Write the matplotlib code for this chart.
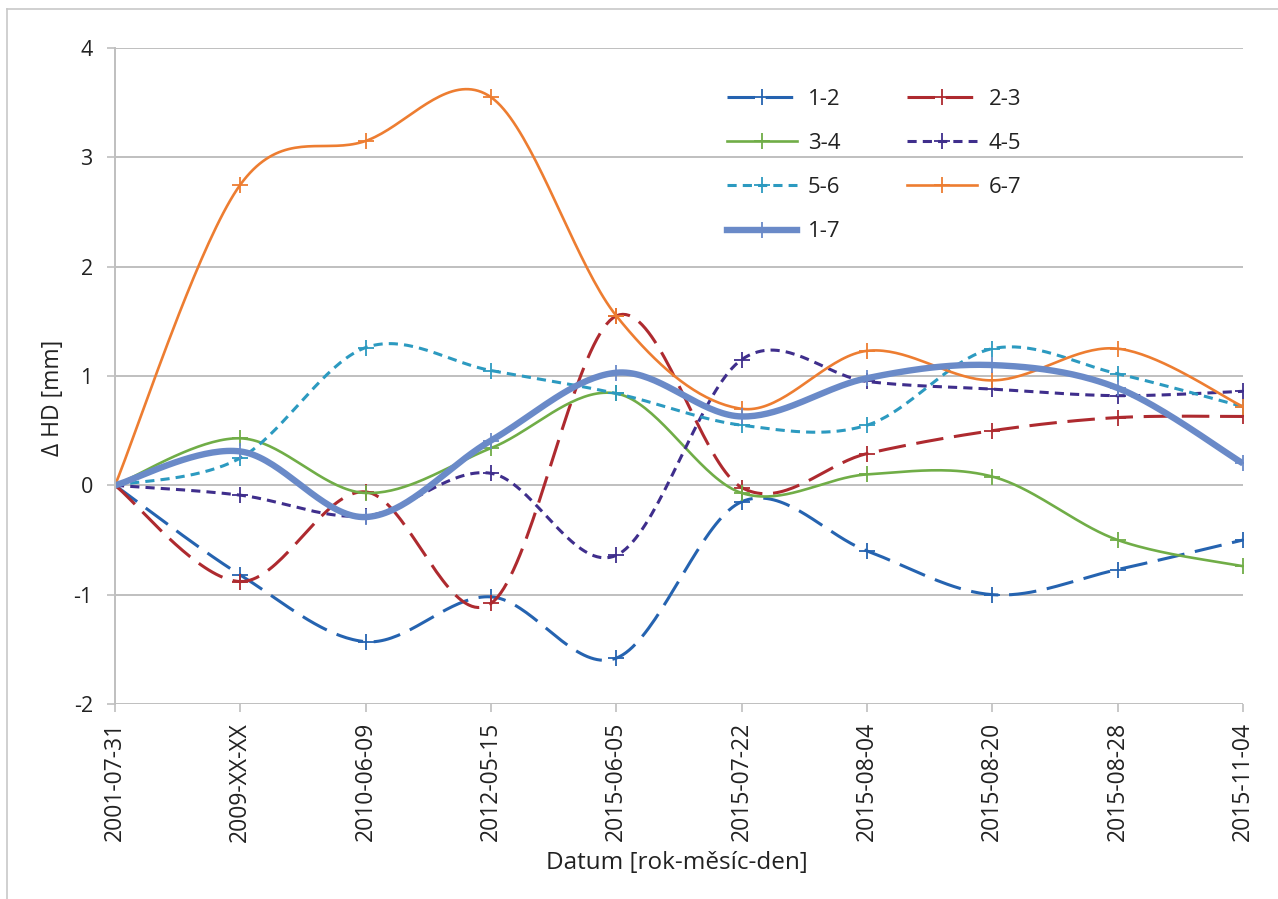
import numpy as np
import matplotlib.pyplot as plt
from matplotlib.lines import Line2D

plt.rcParams['font.family'] = ['Open Sans', 'DejaVu Sans']
plt.rcParams['axes.unicode_minus'] = False

# measurement dates (x categories)
dates = ['2001-07-31', '2009-XX-XX', '2010-06-09', '2012-05-15', '2015-06-05',
         '2015-07-22', '2015-08-04', '2015-08-20', '2015-08-28', '2015-11-04']

# height differences between neighbouring points [mm]
d12 = [0, -0.82, -1.43, -1.02, -1.58, -0.15, -0.60, -1.00, -0.77, -0.50]
d23 = [0, -0.88, -0.06, -1.08, 1.55, -0.02, 0.29, 0.50, 0.62, 0.63]
d34 = [0, 0.43, -0.07, 0.34, 0.84, -0.07, 0.10, 0.08, -0.50, -0.74]
d45 = [0, -0.09, -0.28, 0.11, -0.64, 1.15, 0.95, 0.88, 0.82, 0.86]
d56 = [0, 0.25, 1.26, 1.05, 0.84, 0.55, 0.55, 1.25, 1.02, 0.72]
d67 = [0, 2.75, 3.15, 3.55, 1.55, 0.70, 1.23, 0.96, 1.25, 0.72]
d17 = [0, 0.31, -0.29, 0.41, 1.03, 0.63, 0.98, 1.10, 0.89, 0.20]

series = [
    ('1-2', d12, '#2563B0', 2.2, (0, (9, 3.5))),
    ('2-3', d23, '#AE2A2F', 2.2, (0, (9, 3.5))),
    ('3-4', d34, '#70AD47', 1.9, '-'),
    ('4-5', d45, '#3F2E8C', 2.2, (0, (3, 2))),
    ('5-6', d56, '#2C9AC0', 2.2, (0, (3, 2))),
    ('6-7', d67, '#ED7D31', 1.9, '-'),
    ('1-7', d17, '#6A8AC8', 4.6, '-'),
]


def smooth(x, y, n=40):
    """Catmull-Rom style cubic Bezier through the points (like a smoothed spreadsheet line)."""
    x = np.asarray(x, float)
    y = np.asarray(y, float)
    px = np.concatenate([[x[0]], x, [x[-1]]])
    py = np.concatenate([[y[0]], y, [y[-1]]])
    t = np.linspace(0, 1, n)[:, None]
    xs, ys = [], []
    for i in range(1, len(px) - 2):
        p0 = np.array([px[i], py[i]])
        p3 = np.array([px[i + 1], py[i + 1]])
        c1 = p0 + (np.array([px[i + 1], py[i + 1]]) - np.array([px[i - 1], py[i - 1]])) / 6
        c2 = p3 - (np.array([px[i + 2], py[i + 2]]) - np.array([px[i], py[i]])) / 6
        b = ((1 - t) ** 3) * p0 + 3 * ((1 - t) ** 2) * t * c1 + 3 * (1 - t) * t ** 2 * c2 + t ** 3 * p3
        if i > 1:
            b = b[1:]
        xs.append(b[:, 0])
        ys.append(b[:, 1])
    return np.concatenate(xs), np.concatenate(ys)


fig = plt.figure(figsize=(12.78, 8.99), dpi=100)
ax = fig.add_axes([115 / 1278, 1 - 704 / 899, 1128 / 1278, 656 / 899])

# thin frame around the chart area
fig.add_artist(Line2D([7 / 1278, 7 / 1278], [0, 1 - 9 / 899], transform=fig.transFigure,
                      color='#C8C8C8', lw=1.2))
fig.add_artist(Line2D([7 / 1278, 1], [1 - 9 / 899, 1 - 9 / 899], transform=fig.transFigure,
                      color='#C8C8C8', lw=1.2))

xi = np.arange(len(dates))
handles = {}
for name, vals, col, lw, ls in series:
    sx, sy = smooth(xi, vals)
    ax.plot(sx, sy, color=col, lw=lw, ls=ls, solid_capstyle='butt', dash_capstyle='butt')
    ax.plot(xi, vals, ls='none', marker='+', ms=11, mew=1.3, color=col)
    handles[name] = Line2D([], [], color=col, lw=lw, ls=ls, marker='+', ms=11, mew=1.3)

ax.set_xlim(0, len(dates) - 1)
ax.set_ylim(-2, 4)
ax.set_yticks(np.arange(-2, 5, 1))
ax.set_xticks(xi)
ax.set_xticklabels(dates, rotation=90)
ax.grid(axis='y', color='#BFBFBF', lw=1.4)
ax.set_axisbelow(True)
for s in ['top', 'right', 'bottom']:
    ax.spines[s].set_visible(False)
ax.spines['left'].set_color('#BFBFBF')
ax.spines['left'].set_linewidth(1.4)
ax.tick_params(axis='y', length=6, width=1.2, color='#BFBFBF', pad=10, labelsize=15.5, labelcolor='#222222')
ax.tick_params(axis='x', length=6, width=1.2, color='#BFBFBF', pad=7, labelsize=16.5, labelcolor='#222222')

ax.set_ylabel('Δ HD [mm]', fontsize=16.5, color='#222222')
ax.yaxis.set_label_coords(-0.044, 0.466)
ax.set_xlabel('Datum [rok-měsíc-den]', fontsize=17.5, color='#222222')
ax.xaxis.set_label_coords(0.498, -0.224)

order = ['1-2', '3-4', '5-6', '1-7', '2-3', '4-5', '6-7']
leg = ax.legend([handles[k] for k in order], order, ncol=2, loc='upper left',
                bbox_to_anchor=(727 / 1278, 1 - 89 / 899), bbox_transform=fig.transFigure,
                frameon=False, fontsize=16, handlelength=3.15, handletextpad=0.5,
                columnspacing=3.0, labelspacing=1.04, borderpad=0, borderaxespad=0)
for t in leg.get_texts():
    t.set_color('#222222')

fig.savefig('out.png', dpi=100)
